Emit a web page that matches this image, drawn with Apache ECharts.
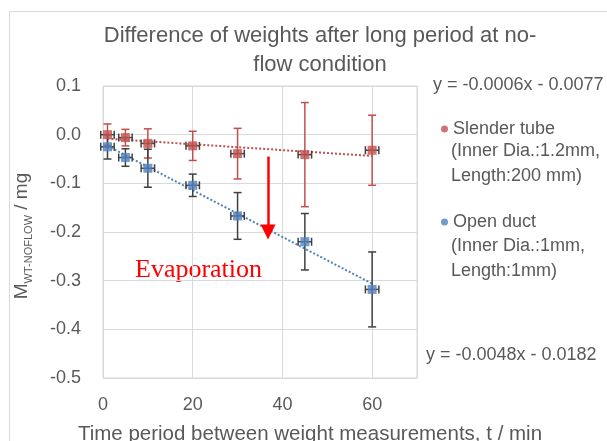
<!DOCTYPE html>
<html>
<head>
<meta charset="utf-8">
<script src="https://cdn.jsdelivr.net/npm/echarts@6/dist/echarts.min.js"></script>
<style>
html,body{margin:0;padding:0;background:#fff;}
#chart{width:607px;height:441px;}
</style>
</head>
<body>
<div id="chart"></div>
<script>
// ---- data ----
const timeMin = [1, 5, 10, 20, 30, 45, 60];
const slenderY = [0.000, -0.006, -0.018, -0.023, -0.039, -0.041, -0.032];
const slenderErr = [0.022, 0.017, 0.030, 0.030, 0.052, 0.107, 0.072];
const openY = [-0.025, -0.047, -0.069, -0.104, -0.167, -0.220, -0.318];
const openErr = [0.025, 0.018, 0.039, 0.023, 0.048, 0.058, 0.077];
const timeErr = [1.5, 1.5, 1.5, 1.5, 1.5, 1.5, 1.5];
const slenderFit = [-0.0006, -0.0077];   // slope, intercept
const openFit = [-0.0048, -0.0182];
const fitRange = [1, 60];
const arrowX = 36.8;
const arrowY = [-0.045, -0.200];
const seriesNames = ['Slender tube', 'Open duct'];
const seriesSub = [['(Inner Dia.:1.2mm,', 'Length:200 mm)'], ['(Inner Dia.:1mm,', 'Length:1mm)']];
const eqLabels = ['y = -0.0006x - 0.0077', 'y = -0.0048x - 0.0182'];
const titleText = 'Difference of weights after long period at no-\nflow condition';
const xName = 'Time period between weight measurements, t / min';

const RED = '#C0504D', BLUE = '#4F81BD', GRAY = '#404040', TXT = '#595959';
const FONT = 'Liberation Sans';

function pts(ys, errs) {
  return timeMin.map((t, i) => [t, ys[i], errs[i], timeErr[i]]);
}
function fitLine(f) {
  return fitRange.map(x => [x, f[0] * x + f[1]]);
}
function errRender(vColor) {
  return function (params, api) {
    const x = api.value(0), y = api.value(1), e = api.value(2), xe = api.value(3);
    const top = api.coord([x, y + e]), bot = api.coord([x, y - e]);
    const lft = api.coord([x - xe, y]), rgt = api.coord([x + xe, y]);
    const cap = 4;
    const vs = {stroke: vColor, lineWidth: 1.5};
    const hs = {stroke: GRAY, lineWidth: 1.5};
    return {
      type: 'group',
      children: [
        {type: 'line', shape: {x1: top[0], y1: top[1], x2: bot[0], y2: bot[1]}, style: vs},
        {type: 'line', shape: {x1: top[0] - cap, y1: top[1], x2: top[0] + cap, y2: top[1]}, style: vs},
        {type: 'line', shape: {x1: bot[0] - cap, y1: bot[1], x2: bot[0] + cap, y2: bot[1]}, style: vs},
        {type: 'line', shape: {x1: lft[0], y1: lft[1], x2: rgt[0], y2: rgt[1]}, style: hs},
        {type: 'line', shape: {x1: lft[0], y1: lft[1] - cap, x2: lft[0], y2: lft[1] + cap}, style: hs},
        {type: 'line', shape: {x1: rgt[0], y1: rgt[1] - cap, x2: rgt[0], y2: rgt[1] + cap}, style: hs}
      ]
    };
  };
}

const chart = echarts.init(document.getElementById('chart'), null, {renderer: 'canvas'});
const txt = (s, x, y, extra) => ({type: 'text', left: x, top: y, style: Object.assign({text: s, fill: TXT, font: '18px "' + FONT + '"', textVerticalAlign: 'middle'}, extra || {})});

chart.setOption({
  animation: false,
  backgroundColor: '#fff',
  textStyle: {fontFamily: FONT},
  title: {
    text: titleText,
    left: 315, textAlign: 'center', top: 16,
    textStyle: {fontSize: 22, fontWeight: 'normal', color: TXT, lineHeight: 29, fontFamily: FONT}
  },
  grid: {left: 103, top: 86, right: 190, bottom: 63, show: true, borderColor: '#d9d9d9', borderWidth: 1,
    containLabel: false, outerBoundsMode: 'none'},
  legend: {
    orient: 'vertical', left: 436, top: 115, itemGap: 75,
    icon: 'circle', itemWidth: 7, itemHeight: 7,
    data: seriesNames,
    textStyle: {fontSize: 18, color: TXT, fontFamily: FONT}
  },
  xAxis: {
    type: 'value', min: 0, max: 70, interval: 20,
    name: xName, nameLocation: 'middle', nameGap: 46,
    nameTextStyle: {fontSize: 20.5, color: TXT, padding: [0, 0, 0, 100], fontFamily: FONT},
    axisLine: {show: false}, axisTick: {show: false},
    axisLabel: {fontSize: 18, color: TXT, margin: 18, showMaxLabel: false, fontFamily: FONT},
    splitLine: {lineStyle: {color: '#d9d9d9'}}
  },
  yAxis: {
    type: 'value', min: -0.5, max: 0.1, interval: 0.1,
    name: '{m|M}{s|WT-NOFLOW}{m| / mg}', nameLocation: 'middle', nameGap: 72,
    nameTextStyle: {
      color: TXT,
      padding: [0, 8, 0, 0],
      rich: {
        m: {fontSize: 19, color: TXT, fontFamily: FONT, lineHeight: 22, verticalAlign: 'bottom'},
        s: {fontSize: 11, color: TXT, fontFamily: FONT, lineHeight: 22, verticalAlign: 'bottom', padding: [0, 0, -3, 0]}
      }
    },
    axisLine: {show: false}, axisTick: {show: false},
    axisLabel: {fontSize: 18, color: TXT, margin: 22, fontFamily: FONT,
      formatter: v => (Math.abs(v) < 1e-9 ? 0 : v).toFixed(1)},
    splitLine: {lineStyle: {color: '#d9d9d9'}}
  },
  series: [
    {type: 'line', name: 'slenderFit', data: fitLine(slenderFit), symbol: 'none', silent: true,
      lineStyle: {color: RED, width: 2, type: 'dotted'}, z: 2},
    {type: 'line', name: 'openFit', data: fitLine(openFit), symbol: 'none', silent: true,
      lineStyle: {color: BLUE, width: 2, type: 'dotted'}, z: 2,
      markLine: {
        silent: true, symbol: ['none', 'triangle'], symbolSize: [15, 15], label: {show: false},
        lineStyle: {color: '#FF0000', width: 2.5, type: 'solid'},
        data: [[{coord: [arrowX, arrowY[0]]}, {coord: [arrowX, arrowY[1]]}]]
      }},
    {type: 'custom', name: 'slenderErr', renderItem: errRender(RED), data: pts(slenderY, slenderErr), encode: {x: 0, y: 1}, z: 3},
    {type: 'custom', name: 'openErr', renderItem: errRender(GRAY), data: pts(openY, openErr), encode: {x: 0, y: 1}, z: 3},
    {type: 'scatter', name: seriesNames[0], data: timeMin.map((t, i) => [t, slenderY[i]]), symbol: 'rect', symbolSize: 9,
      itemStyle: {color: RED}, z: 4},
    {type: 'scatter', name: seriesNames[1], data: timeMin.map((t, i) => [t, openY[i]]), symbol: 'rect', symbolSize: 9,
      itemStyle: {color: BLUE}, z: 4}
  ],
  graphic: [
    {type: 'rect', left: 7, top: 9, shape: {width: 640, height: 460}, style: {fill: 'none', stroke: '#d9d9d9', lineWidth: 1}, z: -1},
    txt(eqLabels[0], 433, 76),
    txt(seriesSub[0][0], 451, 142),
    txt(seriesSub[0][1], 451, 167),
    txt(seriesSub[1][0], 451, 237),
    txt(seriesSub[1][1], 451, 262),
    txt(eqLabels[1], 426, 346),
    {type: 'text', left: 135, top: 257, style: {text: 'Evaporation', fill: '#FF0000', font: '26px "Liberation Serif"'}}
  ]
});
</script>
</body>
</html>
